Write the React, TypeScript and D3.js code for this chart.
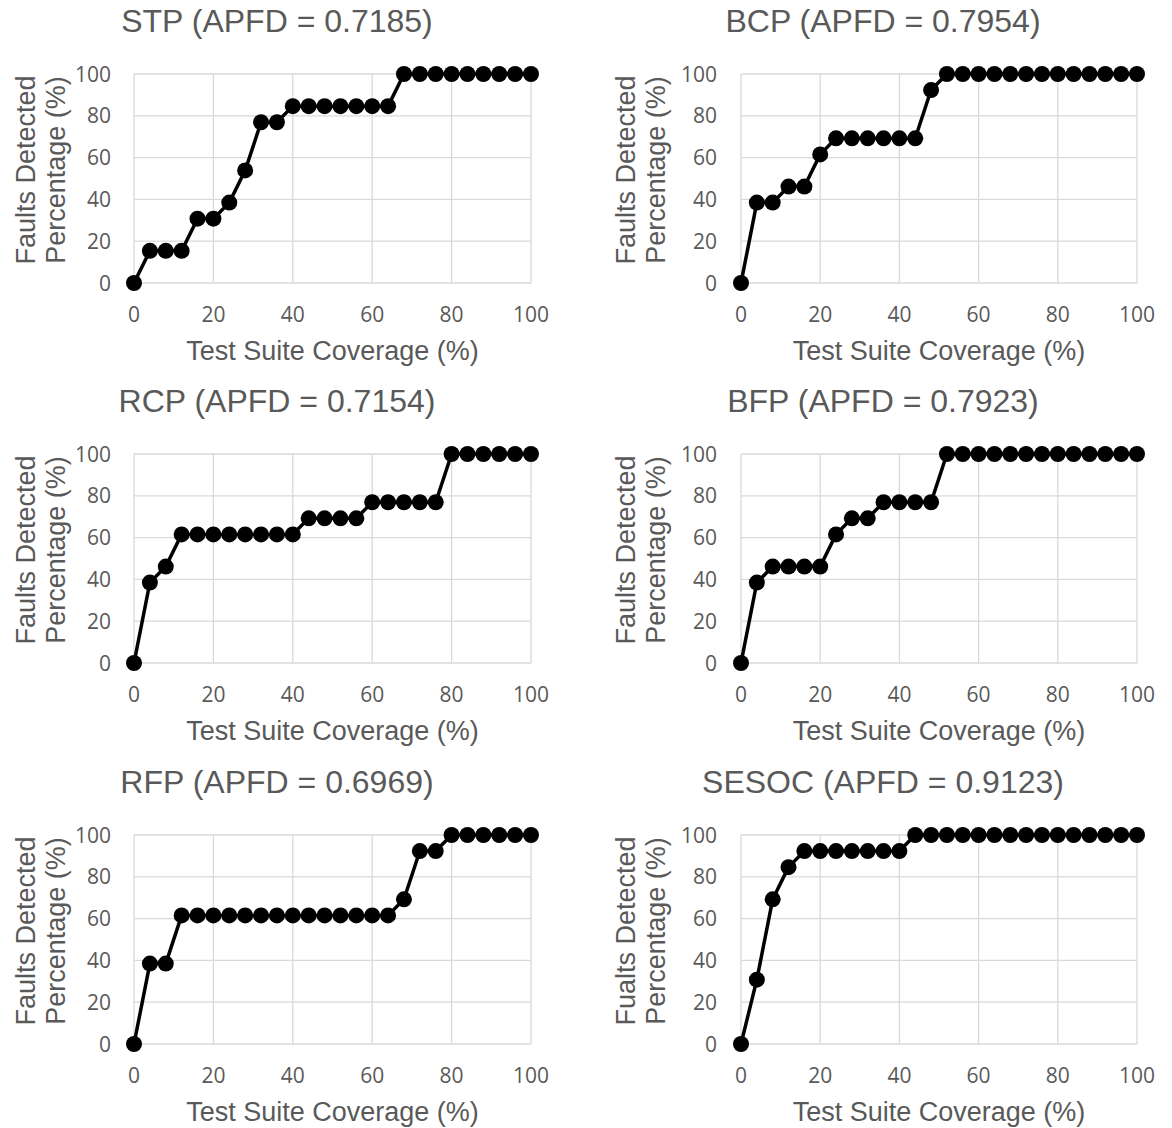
import * as d3 from "d3";
import React, { useRef, useEffect } from "react";

const coverage = [0, 4, 8, 12, 16, 20, 24, 28, 32, 36, 40, 44, 48, 52, 56, 60, 64, 68, 72, 76, 80, 84, 88, 92, 96, 100];

const stp = [0, 15.38, 15.38, 15.38, 30.77, 30.77, 38.46, 53.85, 76.92, 76.92, 84.62, 84.62, 84.62, 84.62, 84.62, 84.62, 84.62, 100, 100, 100, 100, 100, 100, 100, 100, 100];
const bcp = [0, 38.46, 38.46, 46.15, 46.15, 61.54, 69.23, 69.23, 69.23, 69.23, 69.23, 69.23, 92.31, 100, 100, 100, 100, 100, 100, 100, 100, 100, 100, 100, 100, 100];
const rcp = [0, 38.46, 46.15, 61.54, 61.54, 61.54, 61.54, 61.54, 61.54, 61.54, 61.54, 69.23, 69.23, 69.23, 69.23, 76.92, 76.92, 76.92, 76.92, 76.92, 100, 100, 100, 100, 100, 100];
const bfp = [0, 38.46, 46.15, 46.15, 46.15, 46.15, 61.54, 69.23, 69.23, 76.92, 76.92, 76.92, 76.92, 100, 100, 100, 100, 100, 100, 100, 100, 100, 100, 100, 100, 100];
const rfp = [0, 38.46, 38.46, 61.54, 61.54, 61.54, 61.54, 61.54, 61.54, 61.54, 61.54, 61.54, 61.54, 61.54, 61.54, 61.54, 61.54, 69.23, 92.31, 92.31, 100, 100, 100, 100, 100, 100];
const sesoc = [0, 30.77, 69.23, 84.62, 92.31, 92.31, 92.31, 92.31, 92.31, 92.31, 92.31, 100, 100, 100, 100, 100, 100, 100, 100, 100, 100, 100, 100, 100, 100, 100];

const series = [stp, bcp, rcp, bfp, rfp, sesoc];
const titles = [
  "STP (APFD = 0.7185)",
  "BCP (APFD = 0.7954)",
  "RCP (APFD = 0.7154)",
  "BFP (APFD = 0.7923)",
  "RFP (APFD = 0.6969)",
  "SESOC (APFD = 0.9123)",
];
const yTitleTop = ["Faults Detected", "Faults Detected", "Faults Detected", "Faults Detected", "Faults Detected", "Fualts Detected"];
const yTitleBottom = "Percentage (%)";
const xTitle = "Test Suite Coverage (%)";
const ticks = [0, 20, 40, 60, 80, 100];

const W = 1172;
const H = 1128;

// layout for the two columns and three rows
const cols = [
  { x0: 134, x1: 531, titleX: 277, tickRight: 111, yt: [35, 65] },
  { x0: 741, x1: 1137, titleX: 883, tickRight: 717, yt: [635, 665] },
];
const rowTops = [74, 454, 835];
const plotH = 209;

const grey = "#595959";
const titleFont = "'Liberation Sans', Arial, sans-serif";
const tickFont = "'Open Sans', sans-serif";

const App = () => {
  const ref = useRef(null);

  useEffect(() => {
    const svg = d3.select(ref.current);
    svg.selectAll("*").remove();
    svg.append("rect").attr("width", W).attr("height", H).attr("fill", "#fff");

    series.forEach((values, i) => {
      const col = cols[i % 2];
      const top = rowTops[Math.floor(i / 2)];
      const bottom = top + plotH;

      const x = d3.scaleLinear().domain([0, 100]).range([col.x0, col.x1]);
      const y = d3.scaleLinear().domain([0, 100]).range([bottom, top]);

      const g = svg.append("g");

      // grid
      g.selectAll("line.v")
        .data(ticks)
        .join("line")
        .attr("class", "v")
        .attr("x1", (d) => x(d))
        .attr("x2", (d) => x(d))
        .attr("y1", top)
        .attr("y2", bottom)
        .attr("stroke", "#d9d9d9")
        .attr("stroke-width", 1.3);
      g.selectAll("line.h")
        .data(ticks)
        .join("line")
        .attr("class", "h")
        .attr("x1", col.x0)
        .attr("x2", col.x1)
        .attr("y1", (d) => y(d))
        .attr("y2", (d) => y(d))
        .attr("stroke", "#d9d9d9")
        .attr("stroke-width", 1.3);

      // tick labels
      g.selectAll("text.xt")
        .data(ticks)
        .join("text")
        .attr("class", "xt")
        .attr("x", (d) => x(d))
        .attr("y", bottom + 39)
        .attr("text-anchor", "middle")
        .attr("font-family", tickFont)
        .attr("font-size", 21)
        .attr("fill", grey)
        .text((d) => d);
      g.selectAll("text.yt")
        .data(ticks)
        .join("text")
        .attr("class", "yt")
        .attr("x", col.tickRight)
        .attr("y", (d) => y(d) + 7.5)
        .attr("text-anchor", "end")
        .attr("font-family", tickFont)
        .attr("font-size", 21)
        .attr("fill", grey)
        .text((d) => d);

      // titles
      g.append("text")
        .attr("x", col.titleX)
        .attr("y", top - 42)
        .attr("text-anchor", "middle")
        .attr("font-family", titleFont)
        .attr("font-size", 32)
        .attr("fill", grey)
        .text(titles[i]);
      g.append("text")
        .attr("x", (col.x0 + col.x1) / 2)
        .attr("y", bottom + 77)
        .attr("text-anchor", "middle")
        .attr("font-family", titleFont)
        .attr("font-size", 27)
        .attr("fill", grey)
        .text(xTitle);
      [yTitleTop[i], yTitleBottom].forEach((t, k) => {
        g.append("text")
          .attr("transform", `translate(${col.yt[k]},${top + 96}) rotate(-90)`)
          .attr("text-anchor", "middle")
          .attr("font-family", titleFont)
          .attr("font-size", 27)
          .attr("fill", grey)
          .text(t);
      });

      // line + markers
      const pts = coverage.map((c, j) => [c, values[j]]);
      const line = d3
        .line()
        .x((d) => x(d[0]))
        .y((d) => y(d[1]));
      g.append("path")
        .attr("d", line(pts))
        .attr("fill", "none")
        .attr("stroke", "#000")
        .attr("stroke-width", 3.5)
        .attr("stroke-linejoin", "round");
      g.selectAll("circle")
        .data(pts)
        .join("circle")
        .attr("cx", (d) => x(d[0]))
        .attr("cy", (d) => y(d[1]))
        .attr("r", 8)
        .attr("fill", "#000");
    });
  }, []);

  return (
    <svg
      ref={ref}
      width={W}
      height={H}
      style={{ position: "absolute", left: 0, top: 0, display: "block" }}
    ></svg>
  );
};

export default App;
